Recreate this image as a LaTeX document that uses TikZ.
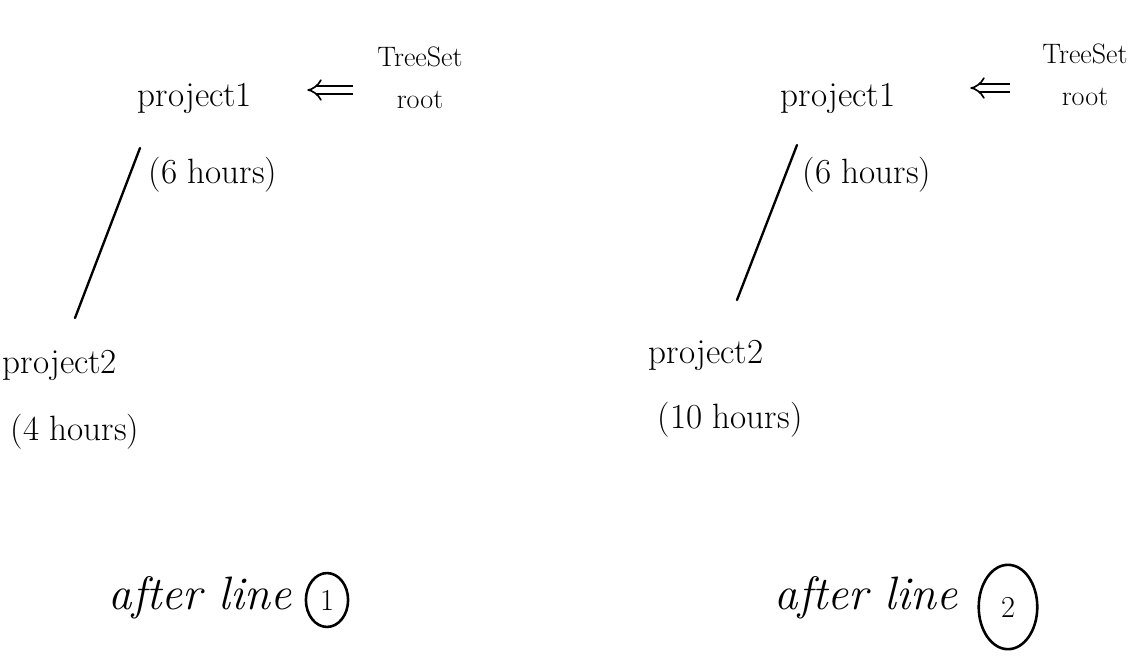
\documentclass[tikz,border=0pt]{standalone}
\usetikzlibrary{arrows.meta,shapes.geometric}
\begin{document}
\begin{tikzpicture}[x=0.03cm,y=-0.03cm,
  lbl/.style={inner sep=1pt,font=\fontsize{30}{34}\selectfont},
  small/.style={inner sep=1pt,font=\fontsize{24}{36}\selectfont,align=center},
  caption/.style={inner sep=1pt,font=\fontsize{40}{44}\selectfont\itshape},
  edge/.style={line width=2pt,line cap=round},
  ptr/.style={line width=1.4pt,double distance=5pt,-{Implies[length=7pt]},shorten >=2pt,shorten <=2pt},
  num/.style={draw,line width=2.2pt,ellipse,inner sep=2pt,font=\fontsize{26}{28}\selectfont},
]
\useasboundingbox (0,0) rectangle (1138,665);

% tree after line 1
\node[lbl] (a1) at (195,98) {project1};
\node[lbl] (a1h) at (213,175) {(6 hours)};
\node[small] (aroot) at (420,78) {TreeSet\\root};
\coordinate (aedge1) at (140,148);
\node[lbl] (a2) at (60,365) {project2};
\node[lbl] (a2h) at (75,432) {(4 hours)};
\coordinate (aedge2) at (75,318);
\draw[edge] (aedge1) -- (aedge2);
\coordinate (aptrs) at (355,90);
\coordinate (aptre) at (305,90);
\draw[ptr] (aptrs) -- (aptre);
\node[caption] (acap) at (200,598) {after line};
\node[num,minimum width=36pt,minimum height=46pt] (an) at (327,600) {1};

% tree after line 2
\node[lbl] (b1) at (838,98) {project1};
\node[lbl] (b1h) at (867,175) {(6 hours)};
\node[small] (broot) at (1085,75) {TreeSet\\root};
\coordinate (bedge1) at (797,145);
\node[lbl] (b2) at (706,355) {project2};
\node[lbl] (b2h) at (730,420) {(10 hours)};
\coordinate (bedge2) at (737,300);
\draw[edge] (bedge1) -- (bedge2);
\coordinate (bptrs) at (1012,88);
\coordinate (bptre) at (968,88);
\draw[ptr] (bptrs) -- (bptre);
\node[caption] (bcap) at (866,598) {after line};
\node[num,minimum width=50pt,minimum height=72pt] (bn) at (1008,607) {2};
\end{tikzpicture}
\end{document}
